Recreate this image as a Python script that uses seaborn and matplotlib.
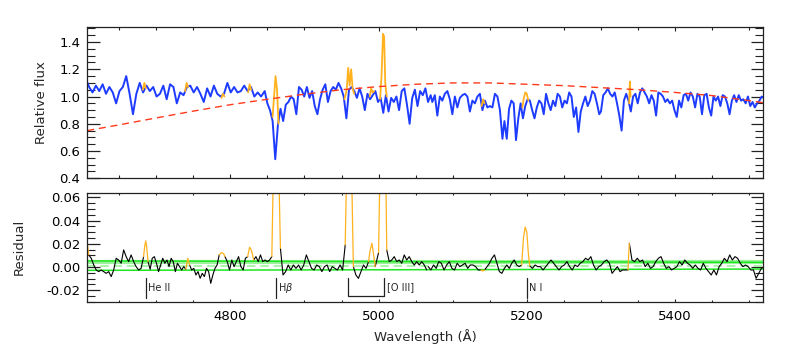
import numpy as np
import pandas as pd
import matplotlib
matplotlib.use("Agg")
import matplotlib.pyplot as plt
import seaborn as sns
from matplotlib.ticker import MultipleLocator, FormatStrFormatter

# ------------------------------------------------------------------ data
# top panel: emission-subtracted relative flux, read in stretches (start, end wavelength)
flux_a_span = (4605, 4841.5)
flux_a = [1.13, 1.07, 1.03, 1.08, 1.04, 1.09, 1.02, 1.07, 1.03, 0.95, 1.04, 1.07, 1.15, 1.02, 0.87,
          1.02, 1.10, 1.03, 1.08, 1.04, 1.07, 1.00, 1.02, 1.08, 0.98, 1.09, 1.07, 0.95, 1.03, 1.01,
          1.07, 1.08, 1.03, 1.07, 1.02, 0.96, 1.06, 1.00, 1.08, 1.02, 1.00, 1.02, 1.10, 1.03, 1.07,
          1.03, 1.04, 1.08, 1.04, 1.07, 1.00, 1.03, 1.00]
flux_b_span = (4846.4, 5070.3)
flux_b = [1.04, 0.95, 0.90, 0.82, 0.54, 0.79, 0.91, 0.82, 0.94, 0.96, 1.00, 0.98, 0.87, 1.07, 1.05,
          1.00, 1.07, 0.99, 1.04, 0.93, 0.87, 0.98, 1.05, 1.09, 0.96, 1.04, 1.07, 1.05, 1.10, 1.06,
          1.00, 0.84, 1.05, 1.07, 1.04, 0.99, 1.06, 1.00, 0.90, 1.02, 0.98, 1.01, 1.04, 0.96, 0.99,
          0.88, 1.01, 0.89, 0.99, 0.96, 1.00, 0.90, 1.04, 1.06, 0.94, 0.80, 0.99, 1.05, 0.93, 1.04,
          1.01, 1.06, 0.96, 1.01]
flux_c1_span = (5072.5, 5167.1)
flux_c1 = [0.96, 1.01, 0.86, 1.00, 0.97, 1.02, 1.04, 0.98, 0.87, 1.00, 0.92, 0.99, 1.01, 1.02, 1.00,
           0.89, 0.97, 0.95, 1.00, 1.02, 0.90, 0.97, 0.92, 0.93, 0.92, 1.02, 1.00, 0.90, 0.69]
flux_c2_span = (5169.8, 5297.7)
flux_c2 = [0.82, 0.69, 0.91, 0.97, 0.95, 0.68, 0.84, 0.95, 0.84, 0.93, 0.98, 0.97, 0.90, 0.84, 0.92,
           0.97, 0.95, 0.87, 1.02, 0.95, 0.90, 0.97, 0.93, 1.02, 1.00, 0.92, 0.97, 0.95, 1.03, 1.00,
           0.85, 0.92, 0.74, 0.89, 0.95, 1.00, 0.93, 0.97, 1.04, 1.02, 0.95, 0.87]
flux_d_span = (5300, 5520)
flux_d = [0.89, 1.01, 1.03, 1.06, 1.02, 1.00, 1.03, 0.95, 0.86, 0.75, 0.97, 1.02, 0.97, 0.89, 1.00,
          1.02, 0.95, 1.03, 1.06, 1.03, 1.00, 0.95, 1.01, 0.97, 0.86, 1.03, 1.02, 1.00, 0.96, 0.98,
          0.95, 0.97, 0.90, 0.85, 0.97, 0.92, 1.01, 1.02, 0.97, 1.03, 1.00, 0.92, 1.02, 1.00, 0.87,
          1.01, 1.02, 0.92, 0.86, 1.00, 0.97, 1.00, 0.93, 1.01, 1.00, 0.95, 0.87, 0.97, 1.01, 0.96,
          1.01, 0.97, 0.98, 0.95, 1.00, 0.93, 0.96, 0.92, 0.95, 0.97, 1.00, 0.99]

# top panel: original flux inside the masked emission windows (orange)
em_top_wave = [
    [4682, 4684, 4686],
    [4739, 4741, 4743],
    [4788, 4790, 4792],
    [4824, 4826, 4828],
    [4857, 4859, 4861, 4863, 4865],
    [4954, 4957, 4959, 4961, 4963, 4965, 4967],
    [4988, 4990, 4992, 4994],
    [5002, 5004, 5006, 5007.5, 5009, 5011],
    [5139, 5141, 5143],
    [5194, 5196, 5198, 5200, 5202],
    [5338, 5339, 5340],
]
em_top_flux = [
    [1.05, 1.10, 1.06],
    [1.04, 1.10, 1.07],
    [0.99, 1.02, 1.00],
    [1.03, 1.09, 1.05],
    [0.85, 1.00, 1.15, 1.05, 0.80],
    [0.98, 1.05, 1.21, 1.08, 1.20, 1.06, 1.02],
    [1.00, 1.06, 1.03, 1.04],
    [0.98, 1.15, 1.46, 1.44, 1.10, 1.00],
    [0.93, 0.98, 0.95],
    [0.92, 0.99, 1.03, 1.02, 0.97],
    [0.95, 1.11, 1.00],
]

# smooth continuum (red dashed)
cont_wave = [4607, 4650, 4700, 4750, 4800, 4850, 4900, 4950, 5000, 5050,
             5100, 5150, 5200, 5250, 5300, 5350, 5400, 5450, 5500, 5519]
cont_flux = [0.75, 0.792, 0.843, 0.893, 0.94, 0.98, 1.017, 1.05, 1.073, 1.09,
             1.10, 1.10, 1.09, 1.08, 1.065, 1.05, 1.03, 1.007, 0.97, 0.955]

# bottom panel: residual (black), stretches between masked windows
res_spans = [(4609, 4683), (4689, 4740), (4745, 4785), (4792.8, 4823.4), (4831.5, 4856),
             (4867.6, 4955), (4966, 4986.5), (4995.5, 5000), (5011, 5065), (5067, 5138),
             (5143, 5193), (5204, 5336.5), (5338.3, 5520)]
res_1 = [0.0104, 0.0075, 0.0017, -0.0026, -0.0040, -0.0026, -0.0040, -0.0055, -0.0040, -0.0083,
         -0.0026, 0.0075, 0.0060, 0.0032, 0.0147, 0.0089, 0.0046, 0.0104, 0.0046, 0.0003,
         -0.0026, -0.0012, 0.0089]
res_2 = [0.0046, -0.0020, 0.0075, 0.0089, 0.0032, -0.0040, 0.0017, 0.0075, 0.0032, 0.0060,
         0.0003, 0.0075, 0.0046, -0.0040, 0.0032, 0.0003, -0.0026, 0.0003, -0.0020]
res_3 = [0.0017, -0.0026, -0.0012, -0.0069, -0.0040, -0.0098, -0.0055, -0.0083, -0.0012, -0.0040,
         -0.0141, -0.0069, -0.0012, 0.0017, 0.0104]
res_4 = [0.0089, 0.0046, -0.0026, 0.0060, 0.0003, 0.0046, 0.0089, 0.0003, -0.0026, 0.0075, 0.0089]
res_5 = [0.0060, 0.0089, 0.0046, 0.0104, 0.0046, 0.0060, 0.0046, 0.0060, 0.0089]
res_6 = [0.0161, -0.0069, -0.0040, 0.0017, -0.0026, 0.0017, -0.0012, 0.0017, -0.0026, 0.0017,
         0.0104, 0.0046, -0.0012, -0.0026, 0.0017, 0.0003, -0.0040, 0.0003, 0.0017, -0.0040,
         0.0003, -0.0012, -0.0026, 0.0017, -0.0026, 0.0190]
res_7 = [0.0003, -0.0069, -0.0098, -0.0040, 0.0017, -0.0012, 0.0046]
res_8 = [0.0003, 0.0124]
res_9 = [0.0147, 0.0046, 0.0060, 0.0089, 0.0046, 0.0060, 0.0032, 0.0104, 0.0060, 0.0089,
         0.0046, 0.0017, 0.0046, 0.0017, 0.0046, 0.0017, -0.0026]
res_10 = [0.0003, -0.0026, 0.0017, -0.0012, 0.0046, 0.0032, -0.0026, 0.0017, 0.0046, -0.0012,
          -0.0026, 0.0032, 0.0003, 0.0017, 0.0032, -0.0012, 0.0017, 0.0017, 0.0003, -0.0026, -0.0026]
res_11 = [-0.0026, 0.0003, 0.0032, 0.0075, 0.0104, 0.0032, -0.0040, -0.0055, -0.0012, 0.0017,
          -0.0012, 0.0032, 0.0060, 0.0017, 0.0003, 0.0017]
res_12 = [0.0009, -0.0012, 0.0017, 0.0003, 0.0003, -0.0026, 0.0003, 0.0032, 0.0060, 0.0032,
          0.0003, -0.0026, 0.0003, 0.0017, 0.0046, 0.0003, -0.0026, 0.0017, 0.0003, 0.0032,
          0.0046, 0.0075, 0.0060, 0.0089, 0.0017, -0.0026, 0.0003, 0.0017, 0.0046, 0.0060,
          0.0032, -0.0055, -0.0026, 0.0003, -0.0040, -0.0026, -0.0026, -0.0026]
res_13 = [0.0204, 0.0060, 0.0046, 0.0075, 0.0046, 0.0060, 0.0003, 0.0032, -0.0012, 0.0003,
          0.0046, 0.0075, 0.0089, 0.0032, -0.0012, 0.0003, -0.0026, -0.0012, 0.0003, 0.0046,
          0.0017, 0.0060, 0.0032, 0.0017, -0.0012, 0.0017, -0.0012, -0.0026, 0.0032, -0.0012,
          -0.0040, -0.0069, -0.0026, -0.0069, 0.0003, 0.0032, 0.0075, 0.0046, 0.0104, 0.0060,
          0.0089, 0.0075, 0.0032, 0.0003, 0.0017, 0.0003, -0.0026, -0.0026, -0.0098, -0.0055,
          -0.0012, 0.0003]
res_values = [res_1, res_2, res_3, res_4, res_5, res_6, res_7, res_8, res_9, res_10,
              res_11, res_12, res_13]

# bottom panel: residual inside masked windows (orange)
em_res_wave = [
    [4606, 4607.5, 4609],
    [4683, 4684.5, 4686, 4687.5, 4689],
    [4740, 4742.5, 4745],
    [4785, 4788, 4791, 4792.8],
    [4823.4, 4826, 4828.5, 4831.5],
    [4856, 4857.7, 4861.8, 4865.8, 4867.6],
    [4955, 4956.5, 4960, 4964, 4966],
    [4986.5, 4988.5, 4991, 4993, 4995.5],
    [5000, 5001.5, 5006, 5010, 5011],
    [5138, 5140.5, 5143],
    [5193, 5195.5, 5197.7, 5200, 5202, 5204],
    [5336.5, 5337.5, 5338.3],
]
em_res_val = [
    [0.028, 0.018, 0.0104],
    [0.0089, 0.018, 0.0225, 0.015, 0.0046],
    [-0.002, 0.0075, 0.0017],
    [0.0104, 0.0124, 0.0115, 0.0089],
    [0.0089, 0.017, 0.0145, 0.006],
    [0.0089, 0.07, 0.15, 0.07, 0.0161],
    [0.019, 0.07, 0.15, 0.07, 0.0003],
    [0.0046, 0.014, 0.0204, 0.012, 0.0003],
    [0.0124, 0.07, 0.15, 0.07, 0.0147],
    [-0.0026, -0.0035, -0.0026],
    [0.0017, 0.025, 0.0345, 0.030, 0.012, 0.0009],
    [-0.0026, 0.012, 0.0204],
]

# noise band (green)
band_wave = [4607, 5519]
band_upper = [0.0052, 0.0040]
band_lower = [-0.0029, -0.0018]
band_mid = [0.0009, 0.0009]
band_upper_soft = [0.0046, 0.0046]

# line identifications
line_labels = ["He II", "H$\\beta$", "[O III]", "N I"]
line_waves = [4686, 4861, 5007, 5200]
oiii_pair = [4959, 5007]

xlim = (4607, 5519)

# ------------------------------------------------------------------ style
sns.set_style("ticks")
plt.rcParams["font.family"] = ["DejaVu Sans"]
plt.rcParams["axes.linewidth"] = 0.9
plt.rcParams["axes.edgecolor"] = "#222222"
for k in ("xtick.bottom", "xtick.top", "ytick.left", "ytick.right"):
    plt.rcParams[k] = True
plt.rcParams["xtick.direction"] = "in"
plt.rcParams["ytick.direction"] = "in"

BLUE = "#1e3cff"
ORANGE = "#ffb21e"
RED = "#ff3a1a"
GREEN = "#1ee61e"
LGREEN = "#9cf29c"

fig = plt.figure(figsize=(7.89, 3.58), dpi=100)
ax1 = fig.add_axes([0.1106, 0.5020, 0.8568, 0.4217])
ax2 = fig.add_axes([0.1106, 0.1564, 0.8568, 0.3053])


def seg_df(span, vals):
    return pd.DataFrame({"wave": np.linspace(span[0], span[1], len(vals)), "v": vals})


# ---- top panel
top = pd.concat([seg_df(flux_a_span, flux_a), seg_df(flux_b_span, flux_b),
                 seg_df(flux_c1_span, flux_c1), seg_df(flux_c2_span, flux_c2),
                 seg_df(flux_d_span, flux_d)], ignore_index=True)
sns.lineplot(data=top, x="wave", y="v", ax=ax1, color=BLUE, lw=1.4,
             sort=False, estimator=None)
for w, f in zip(em_top_wave, em_top_flux):
    sns.lineplot(x=w, y=f, ax=ax1, color=ORANGE, lw=1.3, sort=False, estimator=None)
sns.lineplot(x=cont_wave, y=cont_flux, ax=ax1, color=RED, lw=1.0,
             linestyle=(0, (5, 3.5)), sort=False, estimator=None)

ax1.set_xlim(*xlim)
ax1.set_ylim(0.40, 1.508)
ax1.set_ylabel("Relative flux", fontsize=9.5)
ax1.yaxis.set_label_coords(-0.058, 0.5)
ax1.set_xlabel("")
ax1.yaxis.set_major_locator(MultipleLocator(0.2))
ax1.yaxis.set_minor_locator(MultipleLocator(0.05))
ax1.yaxis.set_major_formatter(FormatStrFormatter("%.1f"))
ax1.xaxis.set_major_locator(MultipleLocator(200))
ax1.xaxis.set_minor_locator(MultipleLocator(50))

# ---- bottom panel
sns.lineplot(x=band_wave, y=band_upper_soft, ax=ax2, color=LGREEN, lw=3.0,
             sort=False, estimator=None)
sns.lineplot(x=band_wave, y=band_mid, ax=ax2, color=LGREEN, lw=1.2,
             linestyle=(0, (5, 3)), sort=False, estimator=None)
sns.lineplot(x=band_wave, y=band_upper, ax=ax2, color=GREEN, lw=1.1, sort=False, estimator=None)
sns.lineplot(x=band_wave, y=band_lower, ax=ax2, color=GREEN, lw=1.1, sort=False, estimator=None)

for span, vals in zip(res_spans, res_values):
    d = seg_df(span, vals)
    sns.lineplot(data=d, x="wave", y="v", ax=ax2, color="black", lw=0.8,
                 sort=False, estimator=None)
for w, v in zip(em_res_wave, em_res_val):
    sns.lineplot(x=w, y=v, ax=ax2, color=ORANGE, lw=0.9, sort=False, estimator=None)

ax2.set_xlim(*xlim)
ax2.set_ylim(-0.0302, 0.0640)
ax2.set_ylabel("Residual", fontsize=9.5)
ax2.yaxis.set_label_coords(-0.0907, 0.5)
ax2.set_xlabel("Wavelength (Å)", fontsize=9.5, labelpad=4)
ax2.yaxis.set_major_locator(MultipleLocator(0.02))
ax2.yaxis.set_minor_locator(MultipleLocator(0.005))
ax2.yaxis.set_major_formatter(FormatStrFormatter("%.2f"))
ax2.xaxis.set_major_locator(MultipleLocator(200))
ax2.xaxis.set_minor_locator(MultipleLocator(50))

# line marks
tick_top, tick_bot = -0.0094, -0.0264
for lab, lw_ in zip(line_labels, line_waves):
    if lab == "[O III]":
        ax2.plot([oiii_pair[0], oiii_pair[0], oiii_pair[1], oiii_pair[1]],
                 [tick_top, -0.0254, -0.0254, tick_top], color="#222222", lw=0.9)
        ax2.text(oiii_pair[1] + 4, -0.0177, lab, fontsize=7, va="center", ha="left")
    else:
        ax2.plot([lw_, lw_], [tick_top, tick_bot], color="#222222", lw=0.9)
        ax2.text(lw_ + 3, -0.0177, lab, fontsize=7, va="center", ha="left")

for ax in (ax1, ax2):
    for s in ax.spines.values():
        s.set_visible(True)
        s.set_linewidth(0.9)
        s.set_color("#222222")
    ax.tick_params(which="both", direction="in", top=True, right=True,
                   bottom=True, left=True, color="#222222",
                   labelcolor="black", labelsize=9.5)
    ax.tick_params(axis="y", which="major", length=9.0, width=0.9, pad=5)
    ax.tick_params(axis="y", which="minor", length=5.5, width=0.8)
ax1.tick_params(axis="x", which="major", length=2.6, width=0.8, labelbottom=False)
ax1.tick_params(axis="x", which="minor", length=2.2, width=0.8)
ax2.tick_params(axis="x", which="major", length=2.0, width=0.8, pad=6)
ax2.tick_params(axis="x", which="minor", length=1.6, width=0.8)

fig.savefig("out.png", dpi=100)
